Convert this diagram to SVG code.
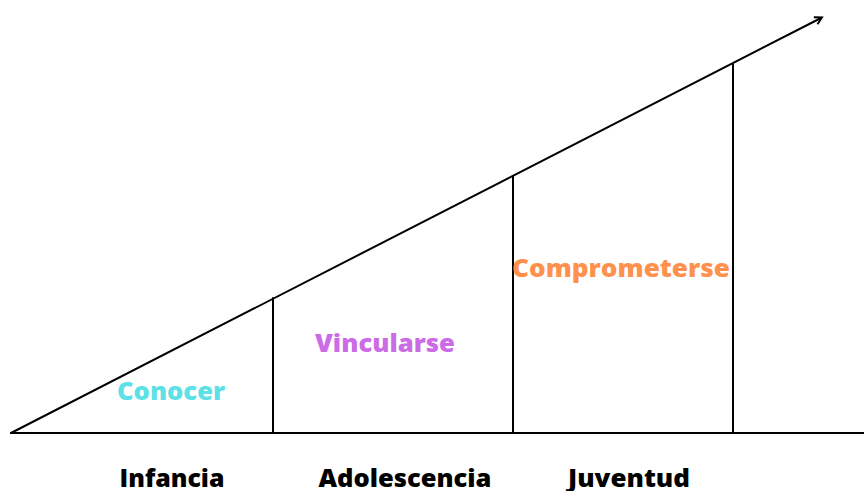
<svg xmlns="http://www.w3.org/2000/svg" width="864" height="491" viewBox="0 0 864 491">
<defs>
<style>
.ln{stroke:#000;stroke-width:2;fill:none;stroke-linecap:round}
.t{font-family:"Open Sans",Lato,"DejaVu Sans",sans-serif;font-weight:800;font-size:24px;text-anchor:middle}
</style>
<marker id="ah" markerWidth="10" markerHeight="10" refX="7" refY="5" orient="auto" markerUnits="userSpaceOnUse">
<path d="M1,1 L8,5 L1,9" fill="none" stroke="#000" stroke-width="2"/>
</marker>
</defs>
<rect width="864" height="491" fill="#fff"/>
<g id="connectors">
<line class="ln" x1="11" y1="433" x2="864" y2="433"/>
<line class="ln" x1="11" y1="433" x2="821" y2="18" marker-end="url(#ah)"/>
<line class="ln" x1="273" y1="298" x2="273" y2="433"/>
<line class="ln" x1="513" y1="176" x2="513" y2="433"/>
<line class="ln" x1="733" y1="64" x2="733" y2="433"/>
</g>
<g id="conocer"><text class="t" x="171" y="400" fill="#5ce1e6" textLength="108" lengthAdjust="spacingAndGlyphs">Conocer</text></g>
<g id="vincularse"><text class="t" x="385" y="352" fill="#cb6ce6" textLength="140" lengthAdjust="spacingAndGlyphs">Vincularse</text></g>
<g id="comprometerse"><text class="t" x="621" y="277" fill="#ff914d" textLength="218" lengthAdjust="spacingAndGlyphs">Comprometerse</text></g>
<g id="infancia"><text class="t" x="172" y="487" fill="#000" textLength="105" lengthAdjust="spacingAndGlyphs">Infancia</text></g>
<g id="adolescencia"><text class="t" x="405" y="487" fill="#000" textLength="173" lengthAdjust="spacingAndGlyphs">Adolescencia</text></g>
<g id="juventud"><text class="t" x="629" y="487" fill="#000" textLength="122" lengthAdjust="spacingAndGlyphs">Juventud</text></g>
</svg>
